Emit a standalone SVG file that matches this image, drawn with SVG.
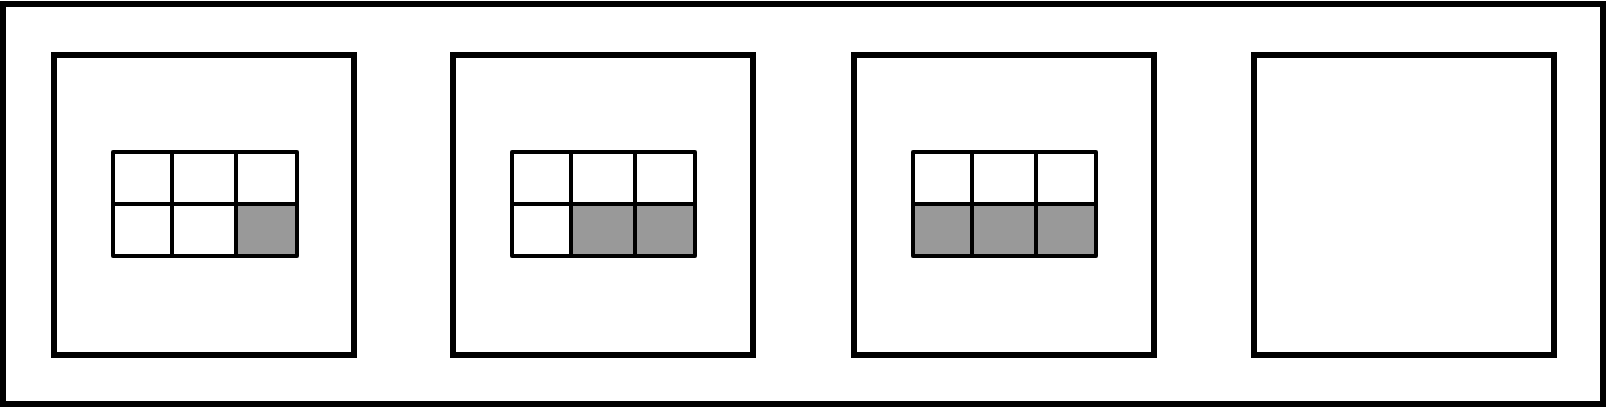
<svg xmlns="http://www.w3.org/2000/svg" width="1606" height="407" viewBox="0 0 1606 407">
<style>
.frame{fill:#fff;stroke:#000;stroke-width:6}
.box{fill:#fff;stroke:#000;stroke-width:6}
.cell{fill:#fff;stroke:#000;stroke-width:4;stroke-linejoin:round}
.on{fill:#999}
</style>
<rect class="frame" x="3" y="4" width="1600" height="400"/>
<g id="panel1">
<rect class="box" x="54" y="55" width="300" height="300"/>
<rect class="cell" x="113" y="152" width="59" height="52"/>
<rect class="cell" x="172" y="152" width="64" height="52"/>
<rect class="cell" x="236" y="152" width="61" height="52"/>
<rect class="cell" x="113" y="204" width="59" height="52"/>
<rect class="cell" x="172" y="204" width="64" height="52"/>
<rect class="cell on" x="236" y="204" width="61" height="52"/>
</g>
<g id="panel2">
<rect class="box" x="453" y="55" width="300" height="300"/>
<rect class="cell" x="512" y="152" width="59" height="52"/>
<rect class="cell" x="571" y="152" width="64" height="52"/>
<rect class="cell" x="635" y="152" width="60" height="52"/>
<rect class="cell" x="512" y="204" width="59" height="52"/>
<rect class="cell on" x="571" y="204" width="64" height="52"/>
<rect class="cell on" x="635" y="204" width="60" height="52"/>
</g>
<g id="panel3">
<rect class="box" x="854" y="55" width="300" height="300"/>
<rect class="cell" x="913" y="152" width="59" height="52"/>
<rect class="cell" x="972" y="152" width="64" height="52"/>
<rect class="cell" x="1036" y="152" width="60" height="52"/>
<rect class="cell on" x="913" y="204" width="59" height="52"/>
<rect class="cell on" x="972" y="204" width="64" height="52"/>
<rect class="cell on" x="1036" y="204" width="60" height="52"/>
</g>
<g id="panel4">
<rect class="box" x="1254" y="55" width="300" height="300"/>
</g>
<g id="connectors"/>
</svg>
